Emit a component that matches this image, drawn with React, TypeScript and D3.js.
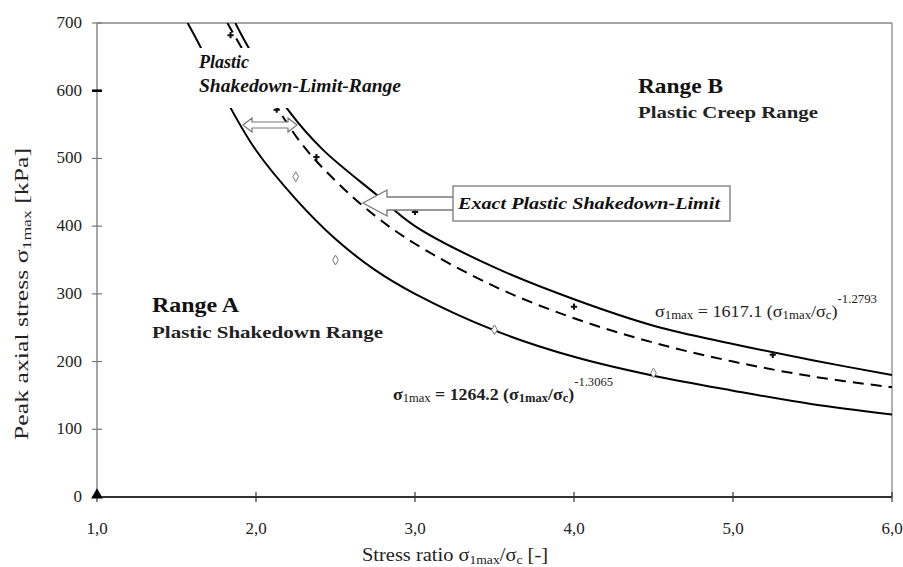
import React from "react";
import * as d3 from "d3";

// values
const lowerX = [1.57, 1.65, 1.8, 2.0, 2.25, 2.5, 2.75, 3.0, 3.5, 4.0, 4.5, 5.0, 5.5, 6.0];
const lowerY = [700, 665, 592, 512, 440, 381, 335, 300, 246, 207, 179, 157, 137, 122];

const upperX = [1.87, 1.95, 2.21, 2.42, 2.76, 3.0, 3.5, 4.0, 4.5, 5.0, 5.5, 6.0];
const upperY = [700, 665, 569, 513, 446, 400, 339, 292, 253, 226, 202, 180];

const dashX = [1.82, 2.26, 2.5, 2.75, 3.0, 3.5, 4.0, 4.5, 5.0, 5.5, 6.0];
const dashY = [700, 530, 467, 415, 374, 311, 264, 228, 200, 178, 162];

const diamondX = [2.25, 2.5, 3.5, 4.5];
const diamondY = [473, 350, 247, 183];

const crossX = [1.84, 2.13, 2.38, 3.0, 4.0, 5.25];
const crossY = [682, 572, 502, 421, 281, 210];

const triangleX = [1.0];
const triangleY = [0];

const xTicks = [1, 2, 3, 4, 5, 6];
const xTickLabels = ["1,0", "2,0", "3,0", "4,0", "5,0", "6,0"];
const yTicks = [0, 100, 200, 300, 400, 500, 600, 700];

const W = 903;
const H = 567;
const FONT = "Liberation Serif, Tinos, Times New Roman, Times, serif";

const zip = (a: number[], b: number[]) => a.map((v, i) => [v, b[i]] as [number, number]);

export default function App() {
  const x = d3.scaleLinear().domain([1, 6]).range([97, 892]);
  const y = d3.scaleLinear().domain([0, 700]).range([497, 23]);

  const line = d3
    .line<[number, number]>()
    .x((d) => x(d[0]))
    .y((d) => y(d[1]))
    .curve(d3.curveCatmullRom.alpha(0.5));

  const sym = d3.symbol();

  return (
    <svg
      width={W}
      height={H}
      style={{ position: "absolute", left: 0, top: 0, background: "#fff", fontFamily: FONT }}
    >
      <defs>
        <clipPath id="plot">
          <rect x={97} y={23} width={795} height={474} />
        </clipPath>
      </defs>
      <rect width={W} height={H} fill="#fff" />

      {/* frame */}
      <line x1={97} y1={23} x2={892} y2={23} stroke="#888" strokeWidth={1.3} />
      <line x1={892} y1={23} x2={892} y2={497} stroke="#888" strokeWidth={1.3} />
      <line x1={97} y1={23} x2={97} y2={497} stroke="#777" strokeWidth={1.3} />
      <line x1={97} y1={497} x2={892} y2={497} stroke="#333" strokeWidth={2} />

      {/* ticks */}
      {yTicks.map((t) => (
        <g key={"y" + t}>
          <line x1={92} x2={102} y1={y(t)} y2={y(t)} stroke={t === 600 ? "#000" : "#777"} strokeWidth={t === 600 ? 2.5 : 1.2} />
          <text x={82} y={y(t) + 5} textAnchor="end" fontSize={17} fill="#222">
            {t}
          </text>
        </g>
      ))}
      {xTicks.map((t, i) => (
        <g key={"x" + t}>
          <line x1={x(t)} x2={x(t)} y1={492} y2={502} stroke="#333" strokeWidth={1.2} />
          <text x={x(t)} y={534} textAnchor="middle" fontSize={17} fill="#222">
            {xTickLabels[i]}
          </text>
        </g>
      ))}

      {/* curves */}
      <g clipPath="url(#plot)" fill="none" stroke="#000">
        <path d={line(zip(lowerX, lowerY)) || ""} strokeWidth={2} />
        <path d={line(zip(upperX, upperY)) || ""} strokeWidth={2} />
        <path d={line(zip(dashX, dashY)) || ""} strokeWidth={2} strokeDasharray="11 7" />
      </g>

      {/* markers */}
      {diamondX.map((v, i) => (
        <path
          key={"d" + i}
          d={sym.type(d3.symbolDiamond).size(28)() || ""}
          transform={`translate(${x(v)},${y(diamondY[i])})`}
          fill="#fff"
          stroke="#777"
          strokeWidth={1}
        />
      ))}
      {crossX.map((v, i) => (
        <path
          key={"c" + i}
          d={sym.type(d3.symbolCross).size(22)() || ""}
          transform={`translate(${x(v)},${y(crossY[i])})`}
          fill="#111"
        />
      ))}
      {triangleX.map((v, i) => (
        <path
          key={"t" + i}
          d={sym.type(d3.symbolTriangle).size(60)() || ""}
          transform={`translate(${x(v)},${y(triangleY[i]) - 2})`}
          fill="#000"
        />
      ))}

      {/* label covering the curves at the top */}
      <rect x={195} y={48} width={212} height={60} fill="#fff" />
      <text x={199} y={68} fontSize={18} fontWeight="bold" fontStyle="italic" fill="#111">
        Plastic
      </text>
      <text x={199} y={92} fontSize={18} fontWeight="bold" fontStyle="italic" fill="#111" textLength={202} lengthAdjust="spacingAndGlyphs">
        Shakedown-Limit-Range
      </text>

      {/* double arrow between the limit curves */}
      <path
        d="M243,125 L252,118 L252,122 L288,122 L288,118 L297,125 L288,132 L288,128 L252,128 L252,132 Z"
        fill="#fff"
        stroke="#777"
        strokeWidth={1.2}
      />

      {/* arrow + box */}
      <path
        d="M363,203 L387,190 L387,197 L454,197 L454,210 L387,210 L387,216 Z"
        fill="#fff"
        stroke="#777"
        strokeWidth={1.3}
      />
      <rect x={453} y={186} width={277} height={35} fill="#fff" stroke="#777" strokeWidth={1.3} />
      <text x={458} y={209} fontSize={17} fontWeight="bold" fontStyle="italic" fill="#111" textLength={262} lengthAdjust="spacingAndGlyphs">
        Exact Plastic Shakedown-Limit
      </text>

      {/* range labels */}
      <text x={638} y={93} fontSize={21} fontWeight="bold" fill="#111" textLength={85} lengthAdjust="spacingAndGlyphs">
        Range B
      </text>
      <text x={638} y={118} fontSize={17} fontWeight="bold" fill="#222" textLength={180} lengthAdjust="spacingAndGlyphs">
        Plastic Creep Range
      </text>
      <text x={152} y={312} fontSize={21} fontWeight="bold" fill="#111" textLength={87} lengthAdjust="spacingAndGlyphs">
        Range A
      </text>
      <text x={152} y={338} fontSize={17} fontWeight="bold" fill="#222" textLength={231} lengthAdjust="spacingAndGlyphs">
        Plastic Shakedown Range
      </text>

      {/* equations */}
      <text x={655} y={317} fontSize={17} fill="#222" textLength={222} lengthAdjust="spacingAndGlyphs">
        σ<tspan fontSize={12} dy={2}>1max</tspan>
        <tspan dy={-2}> = 1617.1 (σ</tspan>
        <tspan fontSize={12} dy={2}>1max</tspan>
        <tspan dy={-2}>/σ</tspan>
        <tspan fontSize={12} dy={2}>c</tspan>
        <tspan dy={-2}>)</tspan>
        <tspan fontSize={12} dy={-14}>-1.2793</tspan>
      </text>
      <text x={393} y={400} fontSize={17} fontWeight="bold" fill="#222" textLength={220} lengthAdjust="spacingAndGlyphs">
        σ<tspan fontSize={12} dy={2} fontWeight="normal">1max</tspan>
        <tspan dy={-2}> = 1264.2 (σ</tspan>
        <tspan fontSize={12} dy={2}>1max</tspan>
        <tspan dy={-2}>/σ</tspan>
        <tspan fontSize={12} dy={2}>c</tspan>
        <tspan dy={-2}>)</tspan>
        <tspan fontSize={12} dy={-14} fontWeight="normal">-1.3065</tspan>
      </text>

      {/* axis titles */}
      <text x={362} y={561} fontSize={18} fill="#222" textLength={186} lengthAdjust="spacingAndGlyphs">
        Stress ratio σ<tspan fontSize={12} dy={3}>1max</tspan>
        <tspan dy={-3}>/σ</tspan>
        <tspan fontSize={12} dy={3}>c</tspan>
        <tspan dy={-3}> [-]</tspan>
      </text>
      <text transform="translate(28,440) rotate(-90)" fontSize={19} fill="#222" textLength={292} lengthAdjust="spacingAndGlyphs">
        Peak axial stress σ<tspan fontSize={13} dy={3}>1max</tspan>
        <tspan dy={-3}> [kPa]</tspan>
      </text>
    </svg>
  );
}
